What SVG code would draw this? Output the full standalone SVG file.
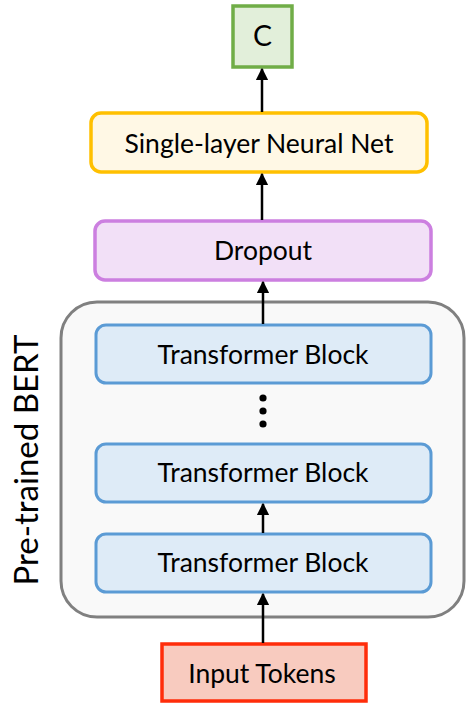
<svg xmlns="http://www.w3.org/2000/svg" width="468" height="704" viewBox="0 0 468 704">
  <defs>
    <marker id="head" viewBox="0 0 10 10" refX="9" refY="5" markerWidth="5" markerHeight="5" orient="auto" markerUnits="strokeWidth">
      <path d="M0,0 L10,5 L0,10 z" fill="#000"/>
    </marker>
    <style>
      .lbl { font-family: Lato, "Open Sans", "Liberation Sans", sans-serif; font-size: 26.5px; fill: #000; text-anchor: middle; }
      .tb rect { fill: #DEEBF7; stroke: #5B9BD5; stroke-width: 3; }
      .edge { stroke: #000; stroke-width: 2.5; fill: none; marker-end: url(#head); }
    </style>
  </defs>
  <rect width="468" height="704" fill="#fff"/>

  <!-- pre-trained encoder container -->
  <g id="bert">
    <rect x="61" y="302" width="403" height="315" rx="36" fill="#F9F9F9" stroke="#808080" stroke-width="3"/>
    <text class="lbl" transform="translate(38,460) rotate(-90)" style="font-size:33px">Pre-trained BERT</text>
  </g>

  <g id="out_c">
    <rect x="233" y="6" width="59" height="61" fill="#E2EFDA" stroke="#70AD47" stroke-width="3.5"/>
    <text class="lbl" x="262.5" y="45.5" style="font-size:28.5px">C</text>
  </g>

  <g id="classifier">
    <rect x="91" y="113" width="336" height="59" rx="10" fill="#FFF8E5" stroke="#FFC000" stroke-width="3.5"/>
    <text class="lbl" x="259" y="153">Single-layer Neural Net</text>
  </g>

  <g id="dropout">
    <rect x="95" y="221" width="336" height="59" rx="10" fill="#F2E0F7" stroke="#CC7FE0" stroke-width="3.5"/>
    <text class="lbl" x="263" y="260">Dropout</text>
  </g>

  <g id="block_top" class="tb">
    <rect x="96" y="325" width="335" height="58" rx="10"/>
    <text class="lbl" x="263" y="364">Transformer Block</text>
  </g>

  <g id="ellipsis" fill="#000">
    <circle cx="263" cy="398" r="3.6"/>
    <circle cx="263" cy="411" r="3.6"/>
    <circle cx="263" cy="424" r="3.6"/>
  </g>

  <g id="block_mid" class="tb">
    <rect x="96" y="444" width="335" height="58" rx="10"/>
    <text class="lbl" x="263" y="482">Transformer Block</text>
  </g>

  <g id="block_bottom" class="tb">
    <rect x="96" y="534" width="335" height="58" rx="10"/>
    <text class="lbl" x="263" y="572">Transformer Block</text>
  </g>

  <g id="input">
    <rect x="162" y="644" width="204" height="57" fill="#F8CBBF" stroke="#FF2D0A" stroke-width="3.5"/>
    <text class="lbl" x="262" y="683">Input Tokens</text>
  </g>

  <g id="connectors">
    <line class="edge" x1="262" y1="112" x2="262" y2="69"/>
    <line class="edge" x1="262" y1="220" x2="262" y2="174"/>
    <line class="edge" x1="263" y1="324" x2="263" y2="282"/>
    <line class="edge" x1="263" y1="533" x2="263" y2="504"/>
    <line class="edge" x1="263" y1="643" x2="263" y2="594"/>
  </g>
</svg>
